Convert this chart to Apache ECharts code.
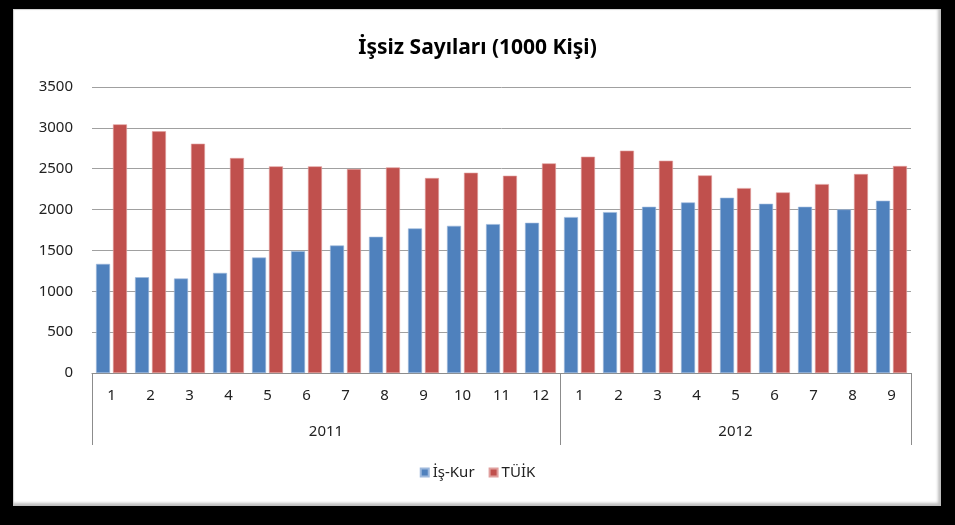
<!DOCTYPE html>
<html>
<head>
<meta charset="utf-8">
<script src="https://cdn.jsdelivr.net/npm/echarts@6/dist/echarts.min.js"></script>
<style>
  html, body { margin:0; padding:0; background:#000; }
  #panel { position:absolute; left:13px; top:9px; width:928px; height:497px; background:#fff;
           box-shadow: inset -3px -3px 3px #bdbdbd, inset 1px 1px 1px #d0d0d0; }
  #chart { position:absolute; left:0; top:0; width:955px; height:525px; }
</style>
</head>
<body>
<div id="panel"></div>
<div id="chart"></div>
<script>
const months = ['1','2','3','4','5','6','7','8','9','10','11','12','1','2','3','4','5','6','7','8','9'];
const years = ['2011','2012'];
const yearSpans = [12, 9];
const isKur = [1335,1172,1156,1225,1413,1491,1560,1667,1769,1801,1822,1838,1908,1969,2034,2087,2145,2071,2034,2002,2108];
const tuik  = [3043,2958,2806,2631,2529,2529,2496,2516,2386,2451,2414,2565,2647,2721,2598,2418,2263,2210,2312,2435,2533];
const yTicks = [0,500,1000,1500,2000,2500,3000,3500];

const bounds = [0];
yearSpans.forEach(s => bounds.push(bounds[bounds.length-1] + s));
const yearCenters = yearSpans.map((s,i) => bounds[i] + s/2);

const chart = echarts.init(document.getElementById('chart'));
const font = 'Noto Sans';
chart.setOption({
  backgroundColor: 'transparent',
  animation: false,
  title: {
    text: 'İşsiz Sayıları (1000 Kişi)',
    left: 'center', top: 33,
    textStyle: { fontFamily: font, fontSize: 21, fontWeight: 'bold', color: '#000' }
  },
  legend: {
    data: ['İş-Kur','TÜİK'],
    left: 'center', top: 460,
    itemWidth: 8, itemHeight: 8, itemGap: 14,
    icon: 'rect',
    textStyle: { fontFamily: font, fontSize: 15, color: '#222', padding: [0,0,0,-1] }
  },
  grid: { left: 92, right: 44, top: 87, bottom: 152, containLabel: false },
  xAxis: [
    {
      type: 'category', data: months, position: 'bottom',
      axisLine: { show: true, lineStyle: { color: '#8c8c8c', width: 1 } },
      axisTick: { show: false },
      axisLabel: { margin: 15, fontFamily: font, fontSize: 15, color: '#222' }
    },
    {
      type: 'value', position: 'bottom', min: 0, max: bounds[bounds.length-1],
      axisLine: { show: false },
      splitLine: { show: false },
      axisTick: { show: true, customValues: bounds, length: 72, lineStyle: { color: '#8c8c8c', width: 1 } },
      axisLabel: {
        customValues: yearCenters, margin: 51, fontFamily: font, fontSize: 15, color: '#222',
        formatter: v => { const i = yearCenters.indexOf(v); return i >= 0 ? years[i] : ''; }
      }
    }
  ],
  yAxis: {
    type: 'value', min: yTicks[0], max: yTicks[yTicks.length-1], interval: 500,
    axisLine: { show: false }, axisTick: { show: false },
    axisLabel: { margin: 19, fontFamily: font, fontSize: 15, color: '#222', formatter: v => String(v) },
    splitLine: { lineStyle: { color: '#a0a0a0', width: 1 } }
  },
  series: [
    { name: 'İş-Kur', type: 'bar', data: isKur, barWidth: 14, barGap: '21%', xAxisIndex: 0,
      itemStyle: { color: '#4F81BD', borderColor: '#9db8dc', borderWidth: 0.6 } },
    { name: 'TÜİK', type: 'bar', data: tuik, barWidth: 14, barGap: '21%', xAxisIndex: 0,
      itemStyle: { color: '#C0504D', borderColor: '#e0a09e', borderWidth: 0.6 } }
  ]
});
</script>
</body>
</html>
